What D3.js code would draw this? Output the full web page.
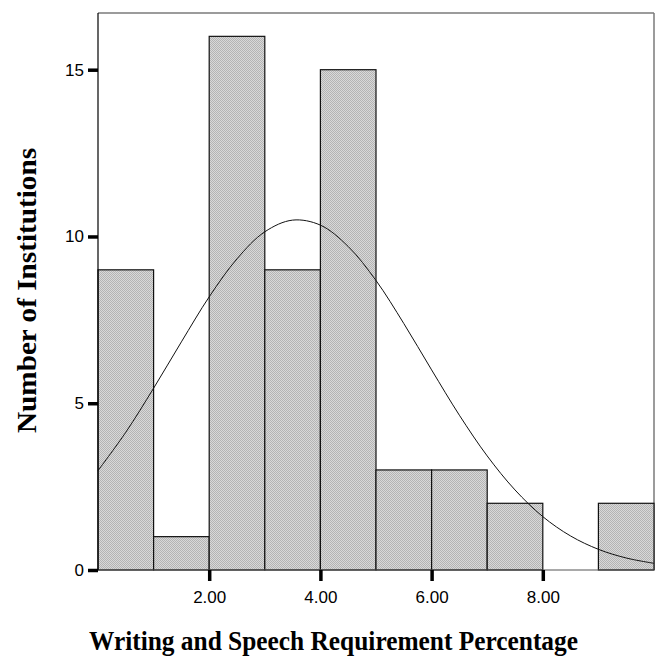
<!DOCTYPE html>
<html>
<head>
<meta charset="utf-8">
<script src="https://cdn.jsdelivr.net/npm/d3@7"></script>
<style>
  html, body { margin: 0; padding: 0; background: #fff; }
  svg { display: block; }
</style>
</head>
<body>
<svg id="chart" width="661" height="656"></svg>
<script>
// ---- data ----
const binStarts = [0, 1, 2, 3, 4, 5, 6, 7, 8, 9];
const binWidth = 1;
const counts = [9, 1, 16, 9, 15, 3, 3, 2, 0, 2];
const curveX = [0, 0.5, 1, 1.5, 2, 2.5, 3, 3.5, 4, 4.5, 5, 5.5, 6, 6.5, 7, 7.5, 8, 8.5, 9, 9.5, 10];
const curveY = [2.98, 4.13, 5.45, 6.84, 8.19, 9.33, 10.14, 10.49, 10.34, 9.70, 8.68, 7.39, 6.00, 4.64, 3.42, 2.40, 1.60, 1.02, 0.62, 0.36, 0.20];
const xTickValues = [2, 4, 6, 8];
const xTickLabels = ["2.00", "4.00", "6.00", "8.00"];
const yTickValues = [0, 5, 10, 15];
const xTitle = "Writing and Speech Requirement Percentage";
const yTitle = "Number of Institutions";

// ---- layout ----
(function () {
const svg = d3.select("#chart");
const pLeft = 98, pRight = 654, pTop = 13, pBottom = 570;

const x = d3.scaleLinear().domain([0, 10]).range([pLeft, pRight]);
const y = d3.scaleLinear().domain([0, 16.7]).range([pBottom, pTop]);

// pattern for bar fill
const defs = svg.append("defs");
const pat = defs.append("pattern")
  .attr("id", "hatch").attr("patternUnits", "userSpaceOnUse")
  .attr("width", 2).attr("height", 2);
pat.append("rect").attr("width", 2).attr("height", 2).attr("fill", "#d9d9d9");
pat.append("rect").attr("x", 0).attr("y", 0).attr("width", 1).attr("height", 1).attr("fill", "#b4b4b4");
pat.append("rect").attr("x", 1).attr("y", 1).attr("width", 1).attr("height", 1).attr("fill", "#b4b4b4");

// frame (top & right, gray)
svg.append("line").attr("x1", pLeft).attr("x2", pRight).attr("y1", pTop).attr("y2", pTop)
  .attr("stroke", "#7a7a7a").attr("stroke-width", 1.5);
svg.append("line").attr("x1", pRight).attr("x2", pRight).attr("y1", pTop).attr("y2", pBottom)
  .attr("stroke", "#7a7a7a").attr("stroke-width", 1.5);

// bars
svg.append("g").selectAll("rect").data(binStarts.map((s, i) => ({ s, c: counts[i] })).filter(d => d.c > 0))
  .join("rect")
  .attr("x", d => x(d.s))
  .attr("y", d => y(d.c))
  .attr("width", d => x(d.s + binWidth) - x(d.s))
  .attr("height", d => y(0) - y(d.c))
  .attr("fill", "url(#hatch)")
  .attr("stroke", "#111")
  .attr("stroke-width", 1.2);

// normal curve
const line = d3.line().x((d, i) => x(curveX[i])).y(d => y(d)).curve(d3.curveCatmullRom);
svg.append("path").datum(curveY).attr("d", line)
  .attr("fill", "none").attr("stroke", "#111").attr("stroke-width", 1);

// bottom baseline
svg.append("line").attr("x1", pLeft).attr("x2", pRight).attr("y1", pBottom).attr("y2", pBottom)
  .attr("stroke", "#555").attr("stroke-width", 1.2);

// axes
const yAxis = d3.axisLeft(y).tickValues(yTickValues).tickSize(10).tickPadding(4).tickFormat(d3.format("d"));
const gy = svg.append("g").attr("transform", `translate(${pLeft},0)`).call(yAxis);
gy.select(".domain").attr("stroke", "#000").attr("stroke-width", 1.2).attr("d", `M0,${pTop}V${pBottom}`);
gy.selectAll(".tick line").attr("stroke", "#000").attr("stroke-width", 3.5);
gy.selectAll(".tick text").attr("font-family", "'Liberation Sans', Arial, sans-serif")
  .attr("font-size", 17).attr("fill", "#000");

const xAxis = d3.axisBottom(x).tickValues(xTickValues).tickSize(11).tickPadding(10)
  .tickFormat((d, i) => xTickLabels[i]);
const gx = svg.append("g").attr("transform", `translate(0,${pBottom})`).call(xAxis);
gx.select(".domain").remove();
gx.selectAll(".tick line").attr("stroke", "#000").attr("stroke-width", 3.5);
gx.selectAll(".tick text").attr("font-family", "'Liberation Sans', Arial, sans-serif")
  .attr("font-size", 17).attr("fill", "#000");

// titles
svg.append("text")
  .attr("x", 333.5).attr("y", 650)
  .attr("text-anchor", "middle")
  .attr("font-family", "'Liberation Serif', 'Times New Roman', serif")
  .attr("font-weight", "bold").attr("font-size", 27)
  .attr("textLength", 489).attr("lengthAdjust", "spacingAndGlyphs")
  .text(xTitle);

svg.append("text")
  .attr("transform", "translate(36,290.5) rotate(-90)")
  .attr("text-anchor", "middle")
  .attr("font-family", "'Liberation Serif', 'Times New Roman', serif")
  .attr("font-weight", "bold").attr("font-size", 28)
  .attr("textLength", 285).attr("lengthAdjust", "spacingAndGlyphs")
  .text(yTitle);
})();
</script>
</body>
</html>
